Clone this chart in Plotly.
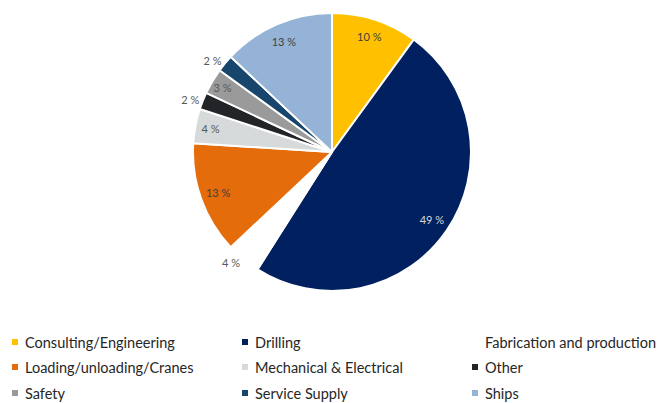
import plotly.graph_objects as go

labels = ["Consulting/Engineering", "Drilling", "Fabrication and production",
          "Loading/unloading/Cranes", "Mechanical & Electrical", "Other",
          "Safety", "Service Supply", "Ships"]
values = [10, 49, 4, 13, 4, 2, 3, 2, 13]
colors = ["#FFC000", "#002060", "#FFFFFF", "#E46C0A", "#D6DADA", "#222427",
          "#9A9A9A", "#17456B", "#95B3D7"]
text_pos = ["inside", "inside", "outside", "inside", "inside", "outside",
            "inside", "outside", "inside"]
label_colors = ["#404040", "#D9D9D9", "#595959", "#404040", "#595959", "#595959",
                "#595959", "#595959", "#404040"]

W, H = 661, 403
FONT = "Lato"
dom = dict(x=[(332 - 139) / W, (332 + 139) / W], y=[1 - 291 / H, 1 - 13 / H])

fig = go.Figure()
# the pie itself
fig.add_trace(go.Pie(
    labels=labels, values=values, sort=False, direction="clockwise", rotation=0,
    marker=dict(colors=colors, line=dict(color="white", width=2)),
    textinfo="none", hoverinfo="label+value", domain=dom, showlegend=False,
))
# transparent ring carrying the percentage labels near the rim
fig.add_trace(go.Pie(
    labels=labels, values=values, sort=False, direction="clockwise", rotation=0,
    hole=0.74,
    marker=dict(colors=["rgba(0,0,0,0)"] * len(values), line=dict(width=0)),
    texttemplate="%{value} %", textposition=text_pos,
    insidetextorientation="horizontal",
    insidetextfont=dict(family=FONT, size=11, color=label_colors),
    outsidetextfont=dict(family=FONT, size=11, color="#595959"),
    hoverinfo="skip", domain=dom, showlegend=False,
))

# Legend drawn as layout annotations (3 columns x 3 rows)
col_x = [23, 253, 483]
row_y = [342, 367, 393]
shapes, annotations = [], []
for i, (lab, col) in enumerate(zip(labels, colors)):
    r, c = divmod(i, 3)
    x0, yc = col_x[c], row_y[r]
    shapes.append(dict(type="rect", xref="paper", yref="paper",
                       x0=(x0 - 11) / W, x1=(x0 - 5) / W,
                       y0=1 - (yc + 3) / H, y1=1 - (yc - 3) / H,
                       fillcolor=col, line=dict(width=0)))
    annotations.append(dict(text=lab, x=x0 / W, y=1 - yc / H, xref="paper", yref="paper",
                            xanchor="left", yanchor="middle", showarrow=False,
                            font=dict(family=FONT, size=14.5, color="#262626")))

fig.update_layout(
    width=W, height=H, margin=dict(l=0, r=0, t=0, b=0),
    paper_bgcolor="white", plot_bgcolor="white",
    uniformtext=dict(minsize=11, mode="show"),
    shapes=shapes, annotations=annotations,
)
fig.write_html("out.html", config={"displayModeBar": False},
               post_script="document.body.style.margin='0';")
